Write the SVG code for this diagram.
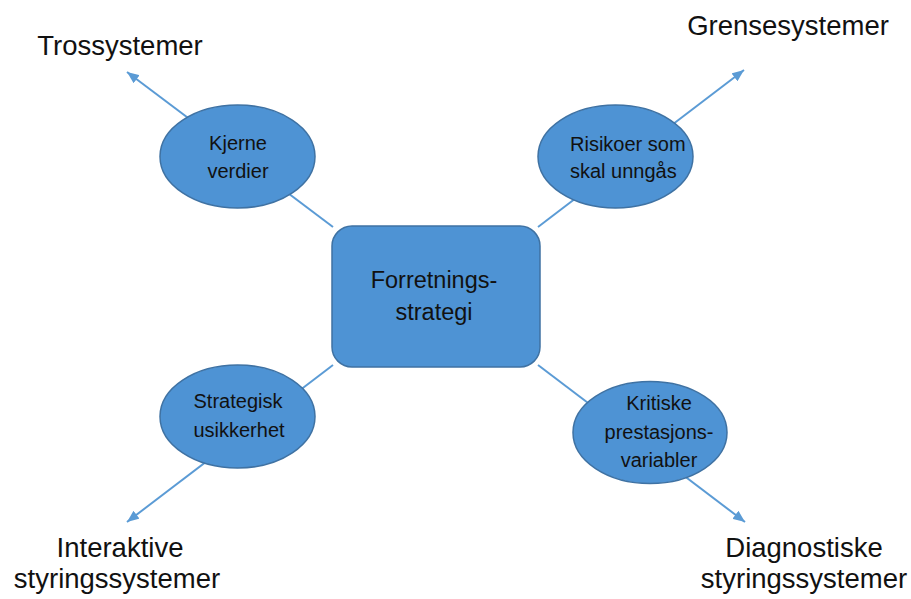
<svg xmlns="http://www.w3.org/2000/svg" width="911" height="599" viewBox="0 0 911 599">
<style>
.conn{stroke:#5B9BD5;stroke-width:2;fill:none}
.ell{fill:#4E93D4;stroke:#3F72A3;stroke-width:1.5}
.box{fill:#4E93D4;stroke:#3F72A3;stroke-width:1.5}
.t{font-family:"Liberation Sans",Arial,sans-serif;fill:#111;}
.s{font-size:20px}
.c{font-size:23.5px;text-anchor:middle}
.big{font-size:27.5px;text-anchor:middle}
.m{text-anchor:middle}
</style>
<defs>
<marker id="arr" viewBox="0 0 12 10" refX="12" refY="5" markerWidth="12" markerHeight="10" markerUnits="userSpaceOnUse" orient="auto">
<path d="M0,0 L12,5 L0,10 Z" fill="#5B9BD5"/>
</marker>
</defs>
<g id="connectors">
<line class="conn" x1="333" y1="227" x2="127" y2="72" marker-end="url(#arr)"/>
<line class="conn" x1="538" y1="227" x2="744" y2="70" marker-end="url(#arr)"/>
<line class="conn" x1="333" y1="365" x2="127" y2="522" marker-end="url(#arr)"/>
<line class="conn" x1="538" y1="365" x2="745" y2="522" marker-end="url(#arr)"/>
</g>
<g id="center">
<rect class="box" x="332" y="226" width="208" height="141" rx="20" ry="20"/>
<text class="t c" x="434" y="288">Forretnings-</text>
<text class="t c" x="434" y="320">strategi</text>
</g>
<g id="kjerne">
<ellipse class="ell" cx="237.5" cy="156.5" rx="77.5" ry="51.5"/>
<text class="t s m" x="238" y="150">Kjerne</text>
<text class="t s m" x="238" y="178">verdier</text>
</g>
<g id="risikoer">
<ellipse class="ell" cx="615.5" cy="156.5" rx="77.5" ry="51.5"/>
<text class="t s" x="570" y="151">Risikoer som</text>
<text class="t s" x="570" y="178">skal unngås</text>
</g>
<g id="strategisk">
<ellipse class="ell" cx="237.5" cy="416.5" rx="77.5" ry="51.5"/>
<text class="t s m" x="238" y="408">Strategisk</text>
<text class="t s m" x="239" y="437">usikkerhet</text>
</g>
<g id="kritiske">
<ellipse class="ell" cx="650" cy="432.5" rx="77" ry="51"/>
<text class="t s m" x="659" y="410">Kritiske</text>
<text class="t s m" x="659" y="439">prestasjons-</text>
<text class="t s m" x="659" y="467">variabler</text>
</g>
<g id="trossystemer">
<text class="t big" x="120" y="55">Trossystemer</text>
</g>
<g id="grensesystemer">
<text class="t big" x="788" y="35">Grensesystemer</text>
</g>
<g id="interaktive">
<text class="t big" x="120" y="557">Interaktive</text>
<text class="t big" x="117" y="588">styringssystemer</text>
</g>
<g id="diagnostiske">
<text class="t big" x="804" y="557">Diagnostiske</text>
<text class="t big" x="804" y="588">styringssystemer</text>
</g>
</svg>
